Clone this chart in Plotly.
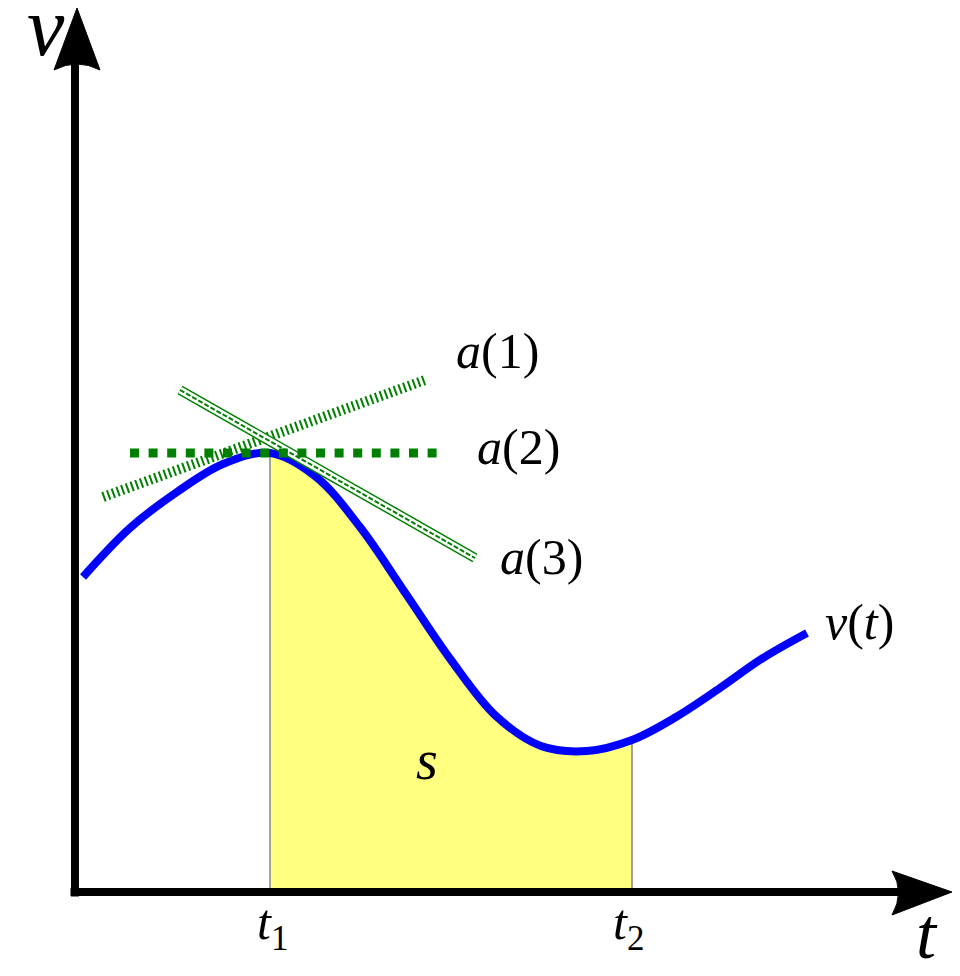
import plotly.graph_objects as go

# v(t) curve samples (t, v)
t_vals = [0.08, 0.55, 1.02, 1.48, 1.95, 2.40, 2.85, 3.31, 3.76, 4.21,
          4.66, 5.12, 5.57, 6.01, 6.45, 6.88, 7.32]
v_vals = [3.15, 3.64, 4.00, 4.28, 4.39, 4.16, 3.65, 2.98, 2.32, 1.76,
          1.46, 1.41, 1.52, 1.75, 2.04, 2.34, 2.59]

t1, t2 = 1.95, 5.57

# tangent lines (endpoints)
a1_t = [0.28, 3.50]
a1_v = [3.95, 5.12]
a2_t = [0.55, 3.62]
a2_v = [4.39, 4.39]
a3_t = [1.05, 4.00]
a3_v = [5.02, 3.34]

GREEN = "#008000"
FONT = "Liberation Serif"

fig = go.Figure()

# shaded area s between t1 and t2
fill_t = [t for t in t_vals if t1 <= t <= t2]
fill_v = [v for t, v in zip(t_vals, v_vals) if t1 <= t <= t2]
fig.add_trace(go.Scatter(x=fill_t, y=fill_v, mode="lines", fill="tozeroy",
                         fillcolor="#ffff80", line=dict(color="rgba(0,0,0,0)", width=0, shape="spline"),
                         hoverinfo="skip"))

# gray verticals at t1, t2
v_t1 = v_vals[t_vals.index(t1)]
v_t2 = v_vals[t_vals.index(t2)]
for tt, vv in [(t1, v_t1), (t2, v_t2)]:
    fig.add_trace(go.Scatter(x=[tt, tt], y=[0, vv], mode="lines",
                             line=dict(color="#8c8c8c", width=1.6), hoverinfo="skip"))

# v(t)
fig.add_trace(go.Scatter(x=t_vals, y=v_vals, mode="lines",
                         line=dict(color="#0000ff", width=8, shape="spline"),
                         hoverinfo="skip"))

# a(1): vertically hatched band
fig.add_trace(go.Scatter(x=a1_t, y=a1_v, mode="lines",
                         line=dict(color=GREEN, width=10, dash="2px,3px"), hoverinfo="skip"))
# a(3): diagonal hatched band (approximated with stripes)
fig.add_trace(go.Scatter(x=a3_t, y=a3_v, mode="lines",
                         line=dict(color=GREEN, width=10), hoverinfo="skip"))
fig.add_trace(go.Scatter(x=a3_t, y=a3_v, mode="lines",
                         line=dict(color="white", width=7), hoverinfo="skip"))
fig.add_trace(go.Scatter(x=a3_t, y=a3_v, mode="lines",
                         line=dict(color=GREEN, width=2, dash="5px,2px"), hoverinfo="skip"))
# a(2): dotted
fig.add_trace(go.Scatter(x=a2_t, y=a2_v, mode="lines",
                         line=dict(color=GREEN, width=9, dash="9px,9.6px"), hoverinfo="skip"))

# axes with arrows
shapes = [
    dict(type="line", x0=0, y0=-0.045, x1=0, y1=8.3, line=dict(color="black", width=8)),
    dict(type="line", x0=-0.045, y0=0, x1=8.3, y1=0, line=dict(color="black", width=8)),
    dict(type="path", path="M 0.02,8.84 L 0.25,8.22 Q 0.02,8.34 -0.21,8.22 Z",
         fillcolor="black", line=dict(color="black", width=1)),
    dict(type="path", path="M 8.77,0 L 8.17,0.21 Q 8.30,0 8.17,-0.23 Z",
         fillcolor="black", line=dict(color="black", width=1)),
]

ann = [
    dict(x=-0.29, y=8.66, text="<i>v</i>", size=84, ya="middle"),
    dict(x=8.52, y=-0.84, text="<i>t</i>", size=72, ya="bottom"),
    dict(x=1.97, y=-0.34, text="<i>t</i><sub>1</sub>", size=50, ya="middle"),
    dict(x=5.53, y=-0.34, text="<i>t</i><sub>2</sub>", size=50, ya="middle"),
    dict(x=3.52, y=1.32, text="<i>s</i>", size=56, ya="middle"),
    dict(x=7.84, y=2.70, text="<i>v</i>(<i>t</i>)", size=50, ya="middle"),
    dict(x=4.22, y=5.41, text="<i>a</i>(1)", size=50, ya="middle"),
    dict(x=4.43, y=4.45, text="<i>a</i>(2)", size=50, ya="middle"),
    dict(x=4.66, y=3.35, text="<i>a</i>(3)", size=50, ya="middle"),
]
annotations = [dict(x=a["x"], y=a["y"], text=a["text"], showarrow=False,
                    xref="x", yref="y", xanchor="center", yanchor=a["ya"],
                    font=dict(family=FONT, size=a["size"], color="black")) for a in ann]

fig.update_layout(
    width=952, height=968, margin=dict(l=0, r=0, t=0, b=0),
    paper_bgcolor="white", plot_bgcolor="white", showlegend=False,
    xaxis=dict(range=[-0.67, 8.85], visible=False, fixedrange=True),
    yaxis=dict(range=[-0.84, 8.84], visible=False, fixedrange=True),
    shapes=shapes, annotations=annotations,
)

fig.write_html("out.html")
